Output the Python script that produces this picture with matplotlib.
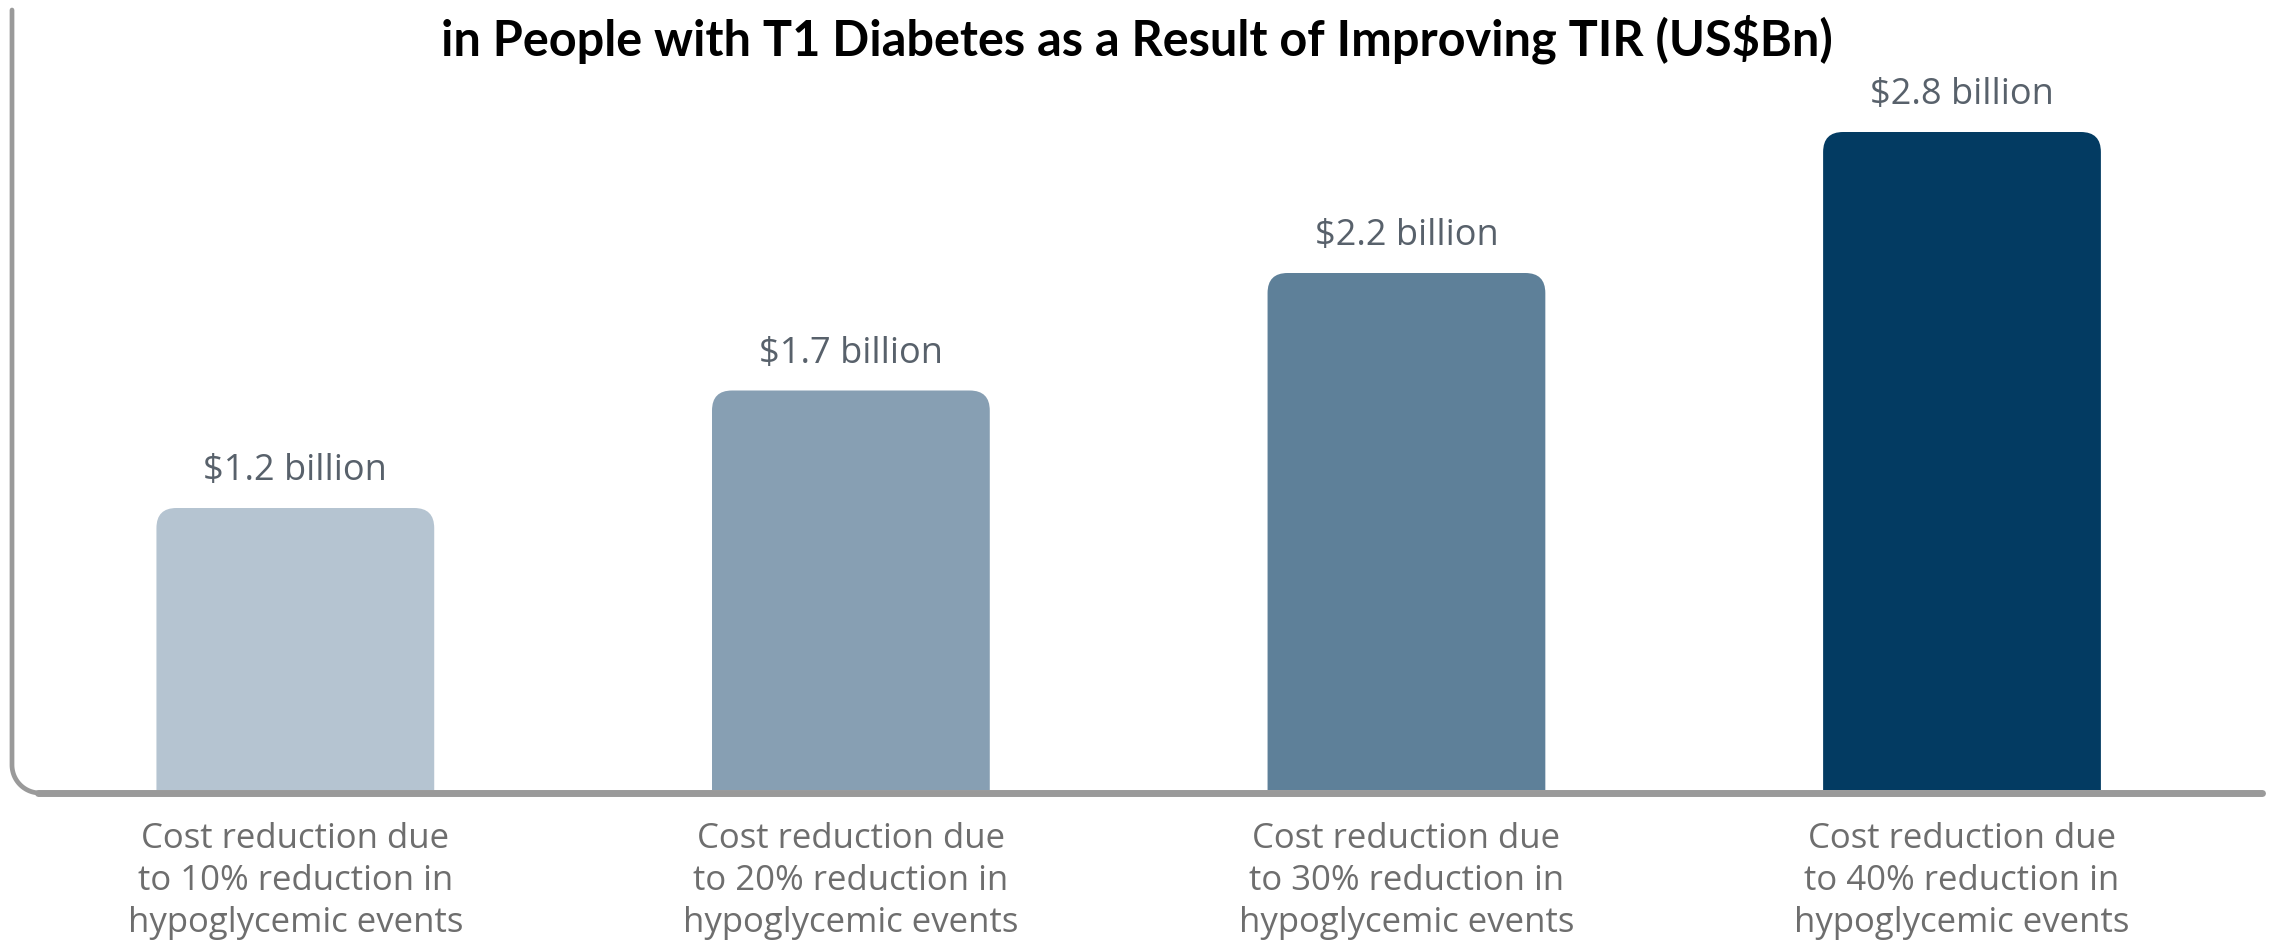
import matplotlib.pyplot as plt
import numpy as np
from matplotlib.patches import FancyBboxPatch

# data
categories = [
    "Cost reduction due\nto 10% reduction in\nhypoglycemic events",
    "Cost reduction due\nto 20% reduction in\nhypoglycemic events",
    "Cost reduction due\nto 30% reduction in\nhypoglycemic events",
    "Cost reduction due\nto 40% reduction in\nhypoglycemic events",
]
values = [1.2, 1.7, 2.2, 2.8]
value_labels = ["$1.2 billion", "$1.7 billion", "$2.2 billion", "$2.8 billion"]
colors = ["#b5c4d1", "#879fb3", "#5e8099", "#033b62"]
title = "in People with T1 Diabetes as a Result of Improving TIR (US$Bn)"

W, H = 2274, 941
fig = plt.figure(figsize=(W / 100, H / 100), dpi=100)

# axes box in pixels (from top-left)
ax_l, ax_r, ax_top, ax_bot = 12, 2262, 10, 790
ymax = (ax_bot - ax_top) / 235.0
ax = fig.add_axes([ax_l / W, 1 - ax_bot / H, (ax_r - ax_l) / W, (ax_bot - ax_top) / H])
ax.set_xlim(-0.51, 3.54)
ax.set_ylim(0, ymax)
ax.axis("off")

bar_w = 0.5
x = np.arange(len(values))

# aspect factor so rounded corners come out circular in pixels
xpp = (3.54 + 0.51) / (ax_r - ax_l)
ypp = ymax / (ax_bot - ax_top)
aspect = ypp / xpp
r = 20 * xpp

for xi, v, c, lab in zip(x, values, colors, value_labels):
    box = FancyBboxPatch((xi - bar_w / 2, -0.3), bar_w, v + 0.3,
                         boxstyle="round,pad=0,rounding_size=%f" % r,
                         mutation_aspect=aspect, facecolor=c, edgecolor="none")
    ax.add_patch(box)
    ax.annotate(lab, (xi, v), xytext=(0, 20), textcoords="offset points",
                ha="center", va="baseline", fontsize=26, color="#58616b",
                family="Open Sans")

for xi, cat in zip(x, categories):
    ax.annotate(cat, (xi, 0), xytext=(0, -23), textcoords="offset points",
                ha="center", va="top", fontsize=25, color="#6e6e6e",
                family="Open Sans", linespacing=1.3, annotation_clip=False)

# axis line with rounded bottom-left corner, drawn in figure pixels
line_y = ax_bot + 3
rad = 28
t = np.linspace(np.pi, 1.5 * np.pi, 30)
px = np.concatenate([[ax_l, ax_l], ax_l + rad + rad * np.cos(t)])
py = np.concatenate([[ax_top, line_y - rad], line_y - rad - rad * np.sin(t)])
fig.add_artist(plt.Line2D(px / W, 1 - py / H, transform=fig.transFigure,
                          color="#9a9a9a", lw=3.4, solid_capstyle="round",
                          solid_joinstyle="round"))
fig.add_artist(plt.Line2D(np.array([ax_l + rad - 2, ax_r]) / W,
                          1 - np.array([line_y, line_y]) / H,
                          transform=fig.transFigure, color="#9a9a9a", lw=5,
                          solid_capstyle="round"))

fig.text(0.5, 1 - 55 / H, title, ha="center", va="baseline",
         fontsize=35, fontweight="bold", family="Lato", color="black")

fig.savefig("out.png", dpi=100)
